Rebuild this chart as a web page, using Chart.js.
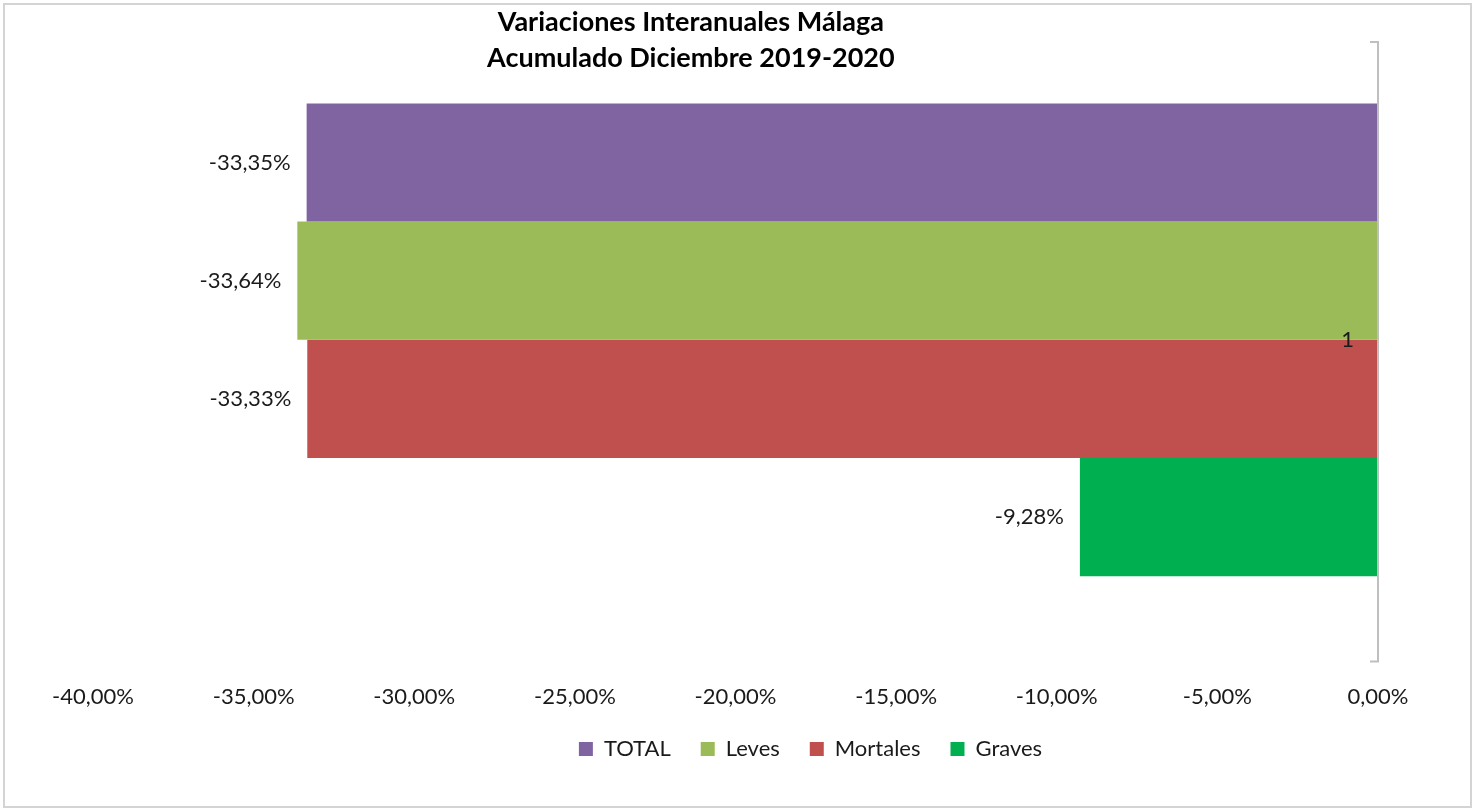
<!DOCTYPE html>
<html>
<head>
<meta charset="utf-8">
<script src="https://cdn.jsdelivr.net/npm/chart.js@4/dist/chart.umd.min.js"></script>
<style>
  html, body { margin: 0; padding: 0; background: #fff; }
  #wrap { position: absolute; left: 3px; top: 3px; width: 1465px; height: 801px; border: 2px solid #d4d4d4; }
  #canvas { position: absolute; left: -5px; top: -5px; }
</style>
</head>
<body>
<div id="wrap"><canvas id="canvas" width="1473" height="811"></canvas></div>
<script>
var categories = ['1'];
var seriesNames = ['TOTAL', 'Leves', 'Mortales', 'Graves'];
var seriesColors = ['#8064A2', '#9BBB59', '#C0504D', '#00B050'];
var totalValues = [-33.35];
var levesValues = [-33.64];
var mortalesValues = [-33.33];
var gravesValues = [-9.28];
var titleLines = ['Variaciones Interanuales Málaga', 'Acumulado Diciembre 2019-2020'];

var FONT = 'Lato, "Liberation Sans", sans-serif';

function pct(v) {
    return v.toFixed(2).replace('.', ',') + '%';
}

var allValues = [totalValues, levesValues, mortalesValues, gravesValues];

var chartData = {
    labels: categories,
    datasets: seriesNames.map(function (name, i) {
        return {
            label: name,
            data: allValues[i],
            backgroundColor: seriesColors[i],
            borderWidth: 0,
            barPercentage: 1,
            categoryPercentage: 0.763
        };
    })
};

// value labels to the left of each bar end
var valueLabels = {
    id: 'valueLabels',
    afterDatasetsDraw: function (chart) {
        var ctx = chart.ctx;
        ctx.save();
        ctx.font = '22px ' + FONT;
        ctx.fillStyle = '#1a1a1a';
        ctx.textAlign = 'right';
        ctx.textBaseline = 'middle';
        chart.data.datasets.forEach(function (ds, i) {
            var meta = chart.getDatasetMeta(i);
            meta.data.forEach(function (el, j) {
                ctx.fillText(pct(ds.data[j]), el.x - 16, el.y);
            });
        });
        ctx.restore();
    }
};

// legend sits a bit right of centre in the original
var legendShift = {
    id: 'legendShift',
    afterLayout: function (chart) {
        chart.legend.left += 75;
        chart.legend.right += 75;
    }
};

// vertical axis line at zero, category label and the title on top of the plot
var decor = {
    id: 'decor',
    afterDraw: function (chart) {
        var ctx = chart.ctx;
        var a = chart.chartArea;
        var yScale = chart.scales.y;
        ctx.save();
        ctx.strokeStyle = '#bfbfbf';
        ctx.lineWidth = 2;
        ctx.beginPath();
        ctx.moveTo(a.right - 8, a.top + 12);
        ctx.lineTo(a.right, a.top + 12);
        ctx.lineTo(a.right, a.bottom + 12);
        ctx.lineTo(a.right - 8, a.bottom + 12);
        ctx.stroke();

        ctx.font = '22px ' + FONT;
        ctx.fillStyle = '#1a1a1a';
        ctx.textAlign = 'right';
        ctx.textBaseline = 'middle';
        categories.forEach(function (c, i) {
            ctx.fillText(c, a.right - 24, yScale.getPixelForValue(i));
        });

        ctx.font = 'bold 27px ' + FONT;
        ctx.fillStyle = '#000';
        ctx.textAlign = 'center';
        var cx = chart.width * 0.469;
        ctx.fillText(titleLines[0], cx, 22);
        ctx.fillText(titleLines[1], cx, 58);
        ctx.restore();
    }
};

new Chart(document.getElementById('canvas').getContext('2d'), {
    type: 'bar',
    data: chartData,
    plugins: [valueLabels, legendShift, decor],
    options: {
        responsive: false,
        animation: false,
        indexAxis: 'y',
        layout: { padding: { top: 30, right: 95, left: 93, bottom: 41 } },
        scales: {
            x: {
                min: -40,
                max: 0,
                ticks: {
                    stepSize: 5,
                    padding: 26,
                    color: '#1a1a1a',
                    font: { family: FONT, size: 22 },
                    callback: function (v) { return pct(v); }
                },
                grid: { display: false },
                border: { display: false },
                afterFit: function (scale) { scale.height = scale.height - 28; }
            },
            y: {
                display: false
            }
        },
        plugins: {
            title: { display: false },
            tooltip: { enabled: false },
            legend: {
                position: 'bottom',
                labels: {
                    boxWidth: 14,
                    boxHeight: 14,
                    padding: 30,
                    color: '#1a1a1a',
                    font: { family: FONT, size: 22 }
                }
            }
        }
    }
});
</script>
</body>
</html>
